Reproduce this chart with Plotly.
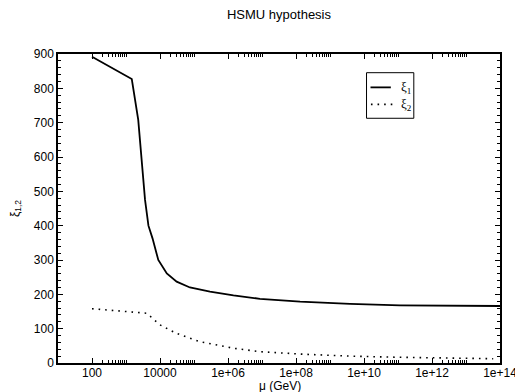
import plotly.graph_objects as go

# data (log10 of mu in GeV)
mu1_log = [2.0, 3.17, 3.36, 3.56, 3.66, 3.78, 3.95, 4.20, 4.49, 4.88, 5.47, 6.16, 6.94, 8.12, 9.59, 11.06, 14.0]
xi1 = [892, 827, 708, 475, 400, 363, 300, 261, 237, 220, 208, 197, 187, 178.6, 172, 168, 166]
mu2_log = [2.0, 3.61, 4.0, 4.49, 5.18, 6.16, 6.94, 8.12, 9.59, 11.06, 13.8]
xi2 = [158, 145, 111, 86, 62, 43, 33, 26, 20, 16.6, 12.5]

xtick_vals = [1e2, 1e4, 1e6, 1e8, 1e10, 1e12, 1e14]
xtick_text = ["100", "10000", "1e+06", "1e+08", "1e+10", "1e+12", "1e+14"]
series_names = ["ξ<sub>1</sub>", "ξ<sub>2</sub>"]

mu1 = [10 ** v for v in mu1_log]
mu2 = [10 ** v for v in mu2_log]

minor_x = [m * 10 ** e for e in range(2, 14, 2) for m in range(2, 11)]

DOT = "1.6px,5px"

fig = go.Figure()
fig.add_trace(go.Scatter(x=mu1, y=xi1, mode="lines", name=series_names[0],
                         line=dict(color="black", width=1.8), showlegend=False))
fig.add_trace(go.Scatter(x=mu2, y=xi2, mode="lines", name=series_names[1],
                         line=dict(color="black", width=1.6, dash=DOT), showlegend=False))

sans = "Liberation Sans, Arial, sans-serif"
axis_font = dict(family=sans, size=12, color="black")

# hand-drawn legend box (xmgrace style)
shapes = [
    dict(type="rect", xref="paper", yref="paper", x0=0.698, x1=0.805, y0=0.792, y1=0.9395,
         line=dict(color="black", width=1), fillcolor="white", layer="above"),
    dict(type="line", xref="paper", yref="paper", x0=0.707, x1=0.753, y0=0.892, y1=0.892,
         line=dict(color="black", width=1.8), layer="above"),
    dict(type="line", xref="paper", yref="paper", x0=0.708, x1=0.758, y0=0.837, y1=0.837,
         line=dict(color="black", width=1.6, dash=DOT), layer="above"),
]
annotations = [
    dict(text=series_names[0], xref="paper", yref="paper", x=0.771, y=0.892,
         xanchor="left", yanchor="middle", showarrow=False,
         font=dict(family="Liberation Serif, serif", size=13, color="black")),
    dict(text=series_names[1], xref="paper", yref="paper", x=0.771, y=0.837,
         xanchor="left", yanchor="middle", showarrow=False,
         font=dict(family="Liberation Serif, serif", size=13, color="black")),
    dict(text="μ (GeV)", xref="paper", yref="paper", x=(280 - 58) / 442, y=-(386 - 363) / 309,
         xanchor="center", yanchor="middle", showarrow=False,
         font=dict(family=sans, size=12, color="black")),
]

fig.update_layout(
    width=515, height=392,
    margin=dict(l=58, r=15, t=54, b=29, autoexpand=False),
    paper_bgcolor="white", plot_bgcolor="white",
    title=dict(text="HSMU hypothesis", x=0.5, xref="paper", xanchor="center",
               y=1 - 14 / 392, yanchor="middle",
               font=dict(family=sans, size=13, color="black")),
    showlegend=False,
    shapes=shapes,
    annotations=annotations,
    xaxis=dict(type="log", range=[1, 14], showgrid=False, zeroline=False, automargin=False,
               showline=True, linecolor="black", linewidth=1.5, mirror="allticks",
               ticks="inside", ticklen=5, tickwidth=1, tickcolor="black",
               tickmode="array", tickvals=xtick_vals, ticktext=xtick_text,
               tickfont=axis_font, ticklabeloverflow="allow", ticklabelstandoff=-2,
               minor=dict(tickmode="array", tickvals=minor_x, ticks="inside",
                          ticklen=3, tickcolor="black", tickwidth=1, showgrid=False)),
    yaxis=dict(range=[0, 900], showgrid=False, zeroline=False, automargin=False,
               showline=True, linecolor="black", linewidth=1.5, mirror="allticks",
               ticks="inside", ticklen=5, tickwidth=1, tickcolor="black",
               dtick=100, tick0=0, tickfont=axis_font,
               minor=dict(dtick=20, ticks="inside", ticklen=3, tickcolor="black",
                          tickwidth=1, showgrid=False),
               title=dict(text="ξ<sub>1,2</sub>", standoff=12,
                          font=dict(family=sans, size=12, color="black"))),
)

fig.write_html("out.html")
